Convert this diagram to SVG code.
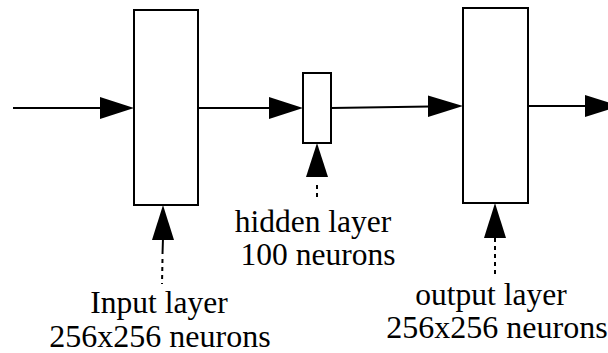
<svg xmlns="http://www.w3.org/2000/svg" width="608" height="353" viewBox="0 0 608 353">
<style>
.box{fill:#fff;stroke:#000;stroke-width:2}
.ln{stroke:#000;stroke-width:2;fill:none}
.dot{stroke:#000;stroke-width:2;fill:none;stroke-dasharray:4 4}
.ah{fill:#000}
.t{font-size:31.5px;fill:#000;text-anchor:middle}
.w{font-size:32px}
</style>
<rect width="608" height="353" fill="#fff"/>
<g id="connectors">
<line class="ln" x1="13" y1="108" x2="102" y2="108"/>
<polygon class="ah" points="100,97 134,108 100,119"/>
<line class="ln" x1="198" y1="108" x2="271" y2="108"/>
<polygon class="ah" points="269,97 303,108 269,119"/>
<line class="ln" x1="331" y1="108" x2="430" y2="106.5"/>
<polygon class="ah" points="428,95.5 463,106 428,117"/>
<line class="ln" x1="528" y1="106" x2="587" y2="106"/>
<polygon class="ah" points="585,95 620,106 585,117"/>
<polygon class="ah" points="317,143 306,177 328,177"/>
<line class="dot" x1="317" y1="185" x2="317" y2="201"/>
<polygon class="ah" points="163,205 152,240 174,240"/>
<line class="ln" x1="163" y1="238" x2="162.5" y2="254"/>
<line class="dot" x1="162.5" y1="259" x2="162" y2="284"/>
<polygon class="ah" points="495,203 484,238 506,238"/>
<line class="dot" x1="495" y1="238" x2="495" y2="276"/>
</g>
<g id="input-layer" font-family="Liberation Serif, Times New Roman, serif">
<rect class="box" x="134" y="10" width="64" height="195"/>
<text class="t" x="159" y="313">Input layer</text>
<text class="t w" x="160" y="347">256x256 neurons</text>
</g>
<g id="hidden-layer" font-family="Liberation Serif, Times New Roman, serif">
<rect class="box" x="303" y="73" width="28" height="70"/>
<text class="t" x="313" y="232">hidden layer</text>
<text class="t" x="318" y="265">100 neurons</text>
</g>
<g id="output-layer" font-family="Liberation Serif, Times New Roman, serif">
<rect class="box" x="463" y="8" width="65" height="195"/>
<text class="t" x="491" y="305">output layer</text>
<text class="t w" x="497" y="338">256x256 neurons</text>
</g>
</svg>
